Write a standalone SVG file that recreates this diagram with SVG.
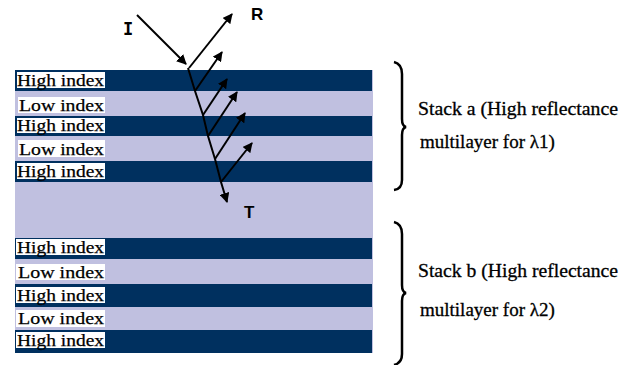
<svg xmlns="http://www.w3.org/2000/svg" width="632" height="365" viewBox="0 0 632 365">
<style>
.dark{fill:#00305f}
.light{fill:#c0c0e0}
.box{fill:#ffffff}
.lbl{font-size:17px;fill:#000;stroke:#000;stroke-width:0.25}
.stk{font-size:19px;fill:#000;stroke:#000;stroke-width:0.3}
.ray{stroke:#000;stroke-width:2;fill:none}
.brace{stroke:#000;stroke-width:2.5;fill:none}
.sym{font-weight:bold;font-size:17px;fill:#000}
</style>
<defs>
<marker id="ah" viewBox="0 0 10 10" refX="9" refY="5" markerWidth="5" markerHeight="5" orient="auto" markerUnits="strokeWidth">
<path d="M0,0 L10,5 L0,10 z" fill="#000"/>
</marker>
</defs>
<rect width="632" height="365" fill="#ffffff"/>
<g id="stack-layers">
<rect class="light" x="15" y="70" width="358" height="283"/>
<rect class="dark" x="15" y="70" width="357" height="21"/>
<rect class="dark" x="15" y="116" width="357" height="20"/>
<rect class="dark" x="15" y="161" width="357" height="21"/>
<rect class="dark" x="15" y="238" width="357" height="21"/>
<rect class="dark" x="15" y="284" width="357" height="23"/>
<rect class="dark" x="15" y="330" width="357" height="23"/>
</g>
<g id="layer-labels" font-family="Liberation Serif, Times New Roman, DejaVu Serif, serif">
<g id="a1"><rect class="box" x="17" y="72" width="88" height="16"/><text class="lbl" x="17" y="86" textLength="87" lengthAdjust="spacingAndGlyphs">High index</text></g>
<g id="a2"><rect class="box" x="18" y="97" width="87" height="16"/><text class="lbl" x="19" y="111" textLength="85" lengthAdjust="spacingAndGlyphs">Low index</text></g>
<g id="a3"><rect class="box" x="17" y="118" width="88" height="15"/><text class="lbl" x="17" y="131" textLength="87" lengthAdjust="spacingAndGlyphs">High index</text></g>
<g id="a4"><rect class="box" x="18" y="140" width="87" height="17"/><text class="lbl" x="19" y="155" textLength="85" lengthAdjust="spacingAndGlyphs">Low index</text></g>
<g id="a5"><rect class="box" x="17" y="163" width="88" height="16"/><text class="lbl" x="17" y="177" textLength="87" lengthAdjust="spacingAndGlyphs">High index</text></g>
<g id="b1"><rect class="box" x="16" y="239" width="89" height="16"/><text class="lbl" x="17" y="253" textLength="87" lengthAdjust="spacingAndGlyphs">High index</text></g>
<g id="b2"><rect class="box" x="16" y="264" width="89" height="16"/><text class="lbl" x="18" y="278" textLength="86" lengthAdjust="spacingAndGlyphs">Low index</text></g>
<g id="b3"><rect class="box" x="16" y="287" width="89" height="16"/><text class="lbl" x="17" y="301" textLength="87" lengthAdjust="spacingAndGlyphs">High index</text></g>
<g id="b4"><rect class="box" x="16" y="310" width="89" height="17"/><text class="lbl" x="18" y="324" textLength="86" lengthAdjust="spacingAndGlyphs">Low index</text></g>
<g id="b5"><rect class="box" x="16" y="332" width="89" height="16"/><text class="lbl" x="17" y="346" textLength="87" lengthAdjust="spacingAndGlyphs">High index</text></g>
</g>
<g id="connectors">
<line class="ray" x1="137" y1="15" x2="186" y2="64" marker-end="url(#ah)"/>
<line class="ray" x1="189" y1="68" x2="232" y2="14" marker-end="url(#ah)"/>
<polyline class="ray" points="188,68 195,91 203,115 208,136 215,159 221,182 227,202" marker-end="url(#ah)"/>
<line class="ray" x1="195" y1="91" x2="222" y2="52" marker-end="url(#ah)"/>
<line class="ray" x1="203" y1="115" x2="227" y2="79" marker-end="url(#ah)"/>
<line class="ray" x1="208" y1="136" x2="237" y2="92" marker-end="url(#ah)"/>
<line class="ray" x1="215" y1="159" x2="245" y2="113" marker-end="url(#ah)"/>
<line class="ray" x1="221" y1="182" x2="252" y2="143" marker-end="url(#ah)"/>
</g>
<g id="ray-labels">
<text x="123" y="35" font-family="DejaVu Sans Mono, monospace" font-weight="bold" font-size="17">I</text>
<text class="sym" x="251" y="20" font-family="Liberation Sans, Arial, sans-serif">R</text>
<text class="sym" x="244" y="218" font-family="Liberation Sans, Arial, sans-serif">T</text>
</g>
<g id="stack-a" font-family="Liberation Serif, Times New Roman, DejaVu Serif, serif">
<path class="brace" d="M394,62 Q402,64 402,74 L402,119 Q402,126 406,127 Q402,128 402,135 L402,180 Q402,189 394,190"/>
<text class="stk" x="418" y="115" textLength="200" lengthAdjust="spacingAndGlyphs">Stack a (High reflectance</text>
<text class="stk" x="420" y="148">multilayer for λ1)</text>
</g>
<g id="stack-b" font-family="Liberation Serif, Times New Roman, DejaVu Serif, serif">
<path class="brace" d="M394,222 Q402,224 402,234 L402,285 Q402,292 406,293 Q402,294 402,301 L402,354 Q402,363 394,365"/>
<text class="stk" x="418" y="277" textLength="200" lengthAdjust="spacingAndGlyphs">Stack b (High reflectance</text>
<text class="stk" x="420" y="316">multilayer for λ2)</text>
</g>
</svg>
